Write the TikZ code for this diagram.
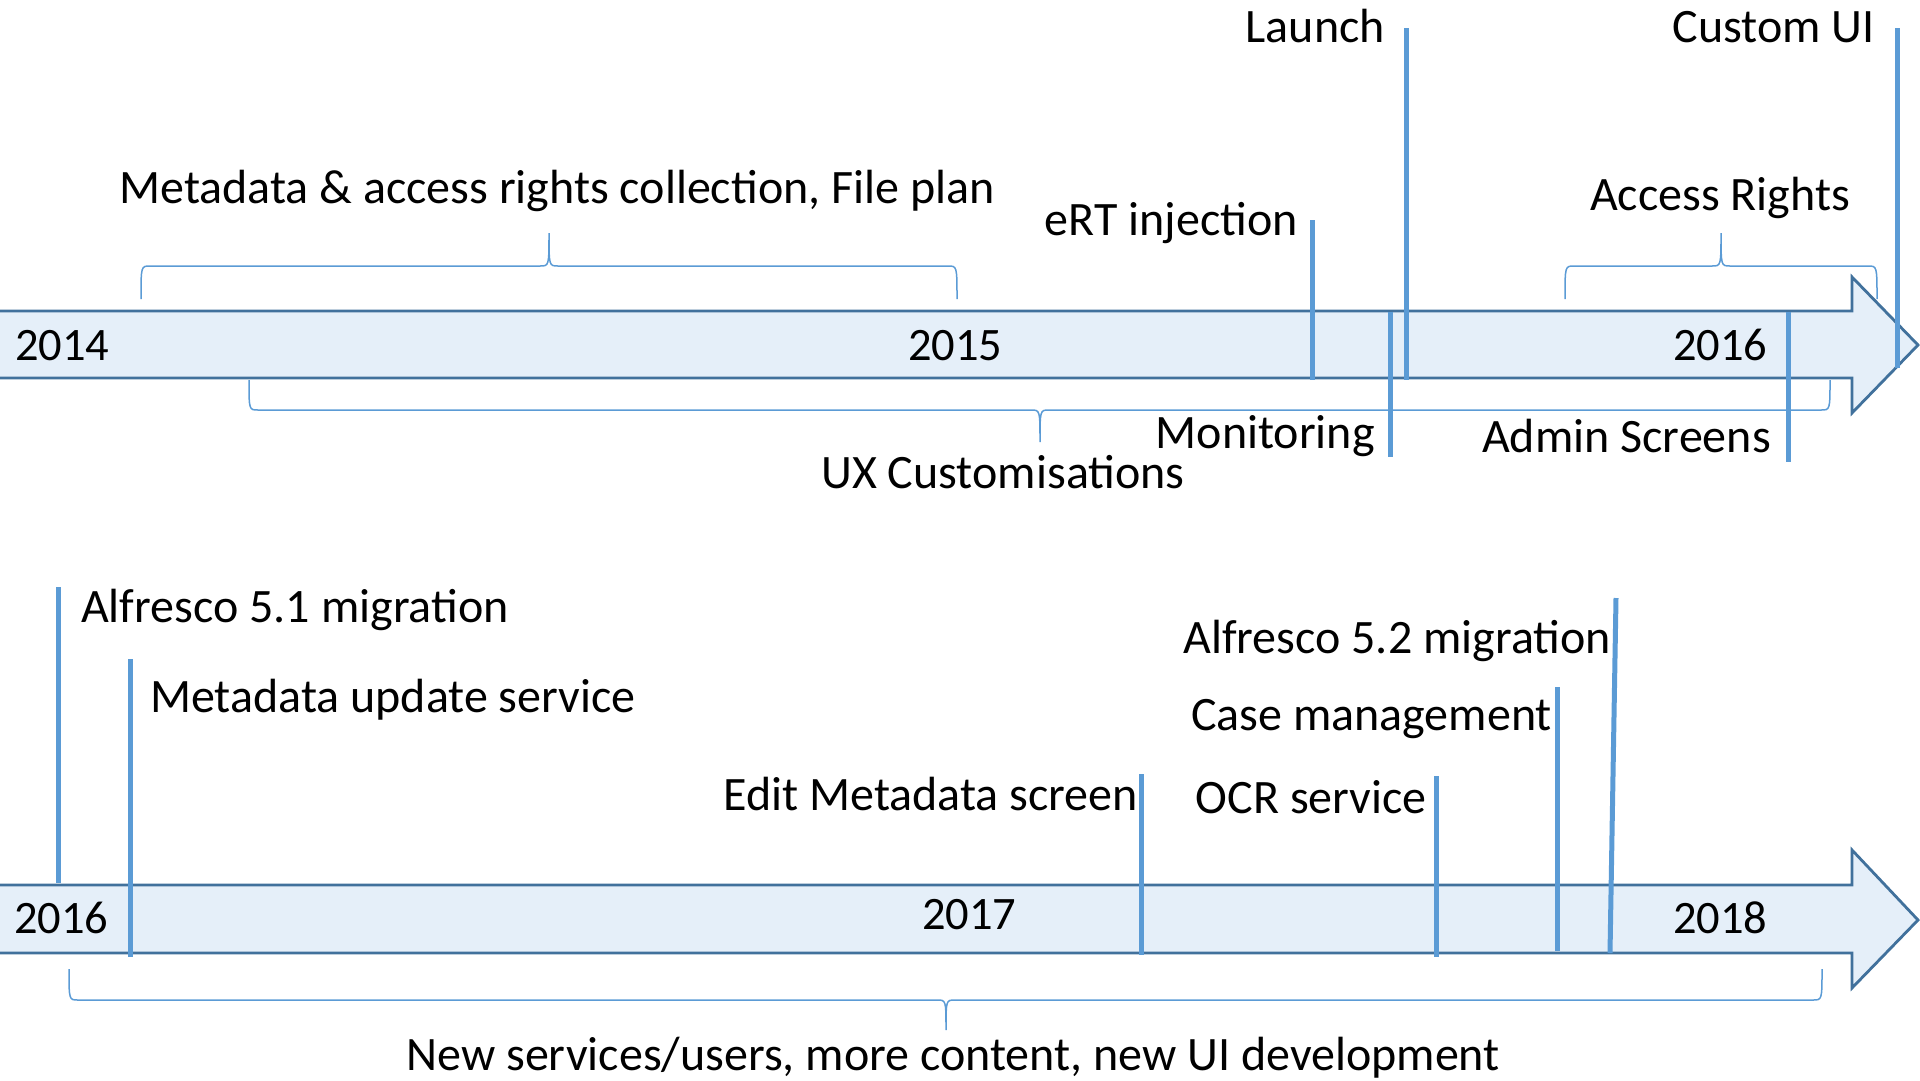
\documentclass[tikz,border=0pt]{standalone}
\usepackage{fontspec}
\setmainfont{Carlito}
\definecolor{arrowfill}{HTML}{E5EFF9}
\definecolor{arrowedge}{HTML}{41719C}
\definecolor{marker}{HTML}{5B9BD5}
\tikzset{
  lbl/.style={inner sep=0pt, font=\fontsize{48pt}{58pt}\selectfont, text=black},
  yr/.style={inner sep=0pt, font=\fontsize{46.5pt}{56pt}\selectfont, text=black},
  band/.style={fill=arrowfill, draw=arrowedge, line width=2.8pt, line join=miter},
  mline/.style={draw=marker, line width=5pt},
  bracestyle/.style={draw=marker, line width=1.5pt}
}
\newcommand\mybrace[6]{%
  \draw[bracestyle] (#1,#4) .. controls (#1,#5) .. (#1+9,#5) -- (#3-9,#5)
    .. controls (#3,#5) .. (#3,#6) .. controls (#3,#5) .. (#3+9,#5)
    -- (#2-9,#5) .. controls (#2,#5) .. (#2,#4);}
\begin{document}
\begin{tikzpicture}[x=1pt,y=-1pt]
\useasboundingbox (0,0) rectangle (1920,1080);
% ---------- top timeline ----------
\draw[band] (-6,311) -- (1852,311) -- (1852,277) -- (1918,345) -- (1852,413) -- (1852,378) -- (-6,378) -- cycle;
\node[yr, anchor=base west] (y2014) at (15,360) {2014};
\node[yr, anchor=base west] (y2015) at (908,360) {2015};
\node[yr, anchor=base west] (y2016a) at (1673,360) {2016};

\node[lbl, anchor=base] (meta) at (557,203) {Metadata \& access rights collection, File plan};
\node[lbl, anchor=base] (ux) at (1003,488) {UX Customisations};
\node[lbl, anchor=base] (access) at (1720,210) {Access Rights};
\mybrace{141}{957}{549}{299}{266}{233}
\mybrace{249}{1830}{1040}{380}{410}{442}
\mybrace{1565}{1877}{1721}{299}{266}{233}

\node[lbl, anchor=base east] (ert) at (1298,235) {eRT injection};
\coordinate (ertT) at (1312,220); \coordinate (ertB) at (1312,380);
\draw[mline] (ertT) -- (ertB);

\node[lbl, anchor=base east] (launch) at (1385,42) {Launch};
\coordinate (launchT) at (1406,28); \coordinate (launchB) at (1406,380);
\draw[mline] (launchT) -- (launchB);

\node[lbl, anchor=base east] (custom) at (1875,42) {Custom UI};
\coordinate (customT) at (1897,28); \coordinate (customB) at (1897,368);
\draw[mline] (customT) -- (customB);

\node[lbl, anchor=base east] (monit) at (1375,448) {Monitoring};
\coordinate (monitT) at (1390,312); \coordinate (monitB) at (1390,457);
\draw[mline] (monitT) -- (monitB);

\node[lbl, anchor=base east] (admin) at (1771,452) {Admin Screens};
\coordinate (adminT) at (1788,312); \coordinate (adminB) at (1788,462);
\draw[mline] (adminT) -- (adminB);

% ---------- bottom timeline ----------
\draw[band] (-6,885) -- (1852,885) -- (1852,850) -- (1918,920) -- (1852,988) -- (1852,953) -- (-6,953) -- cycle;
\node[yr, anchor=base west] (y2016b) at (14,933) {2016};
\node[yr, anchor=base west] (y2017) at (922,929) {2017};
\node[yr, anchor=base west] (y2018) at (1673,933) {2018};

\node[lbl, anchor=base] (newsvc) at (953,1070) {New services/users, more content, new UI development};
\mybrace{69}{1822}{946}{969}{1000}{1030}

\node[lbl, anchor=base west] (alf51) at (81,622) {Alfresco 5.1 migration};
\coordinate (alf51T) at (58,587); \coordinate (alf51B) at (58,883);
\draw[mline] (alf51T) -- (alf51B);

\node[lbl, anchor=base west] (mus) at (150,712) {Metadata update service};
\coordinate (musT) at (130,659); \coordinate (musB) at (130,957);
\draw[mline] (musT) -- (musB);

\node[lbl, anchor=base east] (edit) at (1138,810) {Edit Metadata screen};
\coordinate (editT) at (1141,774); \coordinate (editB) at (1141,955);
\draw[mline] (editT) -- (editB);

\node[lbl, anchor=base east] (ocr) at (1427,813) {OCR service};
\coordinate (ocrT) at (1436,776); \coordinate (ocrB) at (1436,957);
\draw[mline] (ocrT) -- (ocrB);

\node[lbl, anchor=base east] (casem) at (1552,730) {Case management};
\coordinate (casemT) at (1557,687); \coordinate (casemB) at (1557,951);
\draw[mline] (casemT) -- (casemB);

\node[lbl, anchor=base east] (alf52) at (1611,653) {Alfresco 5.2 migration};
\coordinate (alf52T) at (1616,598); \coordinate (alf52B) at (1610,953);
\draw[mline] (alf52T) -- (alf52B);
\end{tikzpicture}
\end{document}
